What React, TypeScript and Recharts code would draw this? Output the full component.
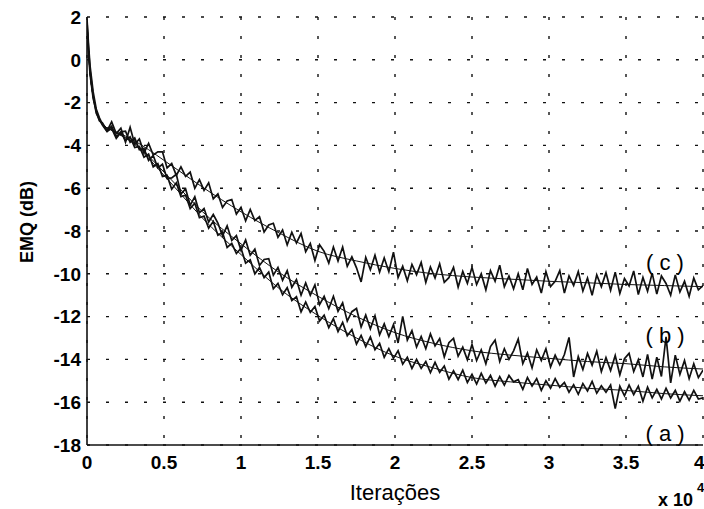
import { CartesianGrid, Line, LineChart, XAxis, YAxis } from 'recharts'

// x in units of 10^4 iterations
const headX = [0, 0.01, 0.02, 0.04, 0.06, 0.08]
const stepX = Array.from({ length: 131 }, (_, i) => Math.round((0.1 + i * 0.03) * 100) / 100)
const noisyX = [...headX, ...stepX]

const noisyC = [
  1.9, 0.7, -0.3, -1.5, -2.3, -2.7,
  -3.0, -3.32, -2.9, -3.45, -3.2, -3.85, -3.15, -3.95, -3.7, -4.35,
  -3.9, -4.45, -4.3, -4.3, -5.05, -4.85, -5.4, -5.0, -5.45, -5.25,
  -6.0, -5.6, -6.1, -5.75, -6.5, -6.27, -6.9, -6.6, -6.53, -7.21,
  -6.9, -7.52, -6.99, -7.51, -7.33, -8.05, -7.72, -7.64, -8.29, -7.95,
  -8.65, -8.06, -8.56, -8.12, -8.97, -8.58, -9.38, -8.64, -8.95, -9.5,
  -8.75, -9.4, -8.75, -9.65, -9.21, -9.72, -10.38, -9.23, -9.81, -9.13,
  -9.92, -9.26, -9.9, -8.99, -10.17, -9.65, -10.33, -9.56, -10.04, -9.47,
  -10.4, -9.68, -10.2, -9.53, -10.4, -10.18, -9.7, -10.62, -9.89, -10.45,
  -9.7, -10.5, -10.0, -10.75, -9.85, -10.35, -9.6, -10.6, -10.1, -10.7,
  -10.0, -10.75, -9.75, -10.5, -10.15, -10.9, -9.9, -10.6, -10.35, -9.85,
  -10.9, -10.1, -10.55, -9.9, -10.8, -10.2, -11.0, -10.05, -10.6, -9.95,
  -10.77, -9.92, -10.92, -10.22, -10.57, -9.87, -10.97, -10.17, -10.82, -9.97,
  -10.95, -10.1, -10.45, -11.0, -10.05, -10.85, -10.35, -11.05, -10.2, -10.75,
  -10.55,
]

const noisyB = [
  1.6, 0.3, -0.7, -1.8, -2.4, -2.85,
  -2.95, -3.3, -3.1, -3.6, -3.37, -3.34, -3.85, -3.65, -4.2, -4.15,
  -4.7, -4.47, -5.05, -4.88, -5.55, -5.52, -5.35, -6.27, -6.03, -6.8,
  -6.4, -7.15, -6.95, -7.58, -7.23, -7.63, -8.22, -7.76, -8.44, -8.22,
  -8.9, -8.42, -9.13, -8.85, -9.61, -9.33, -9.29, -10.06, -9.7, -10.3,
  -9.85, -10.63, -10.27, -11.0, -10.43, -11.0, -10.52, -11.44, -11.05, -11.63,
  -11.05, -11.75, -11.36, -12.21, -11.77, -11.62, -12.48, -11.93, -12.57, -11.96,
  -12.85, -12.34, -12.93, -12.37, -13.23, -11.99, -13.1, -12.66, -13.42, -12.93,
  -13.5, -12.81, -13.37, -13.03, -13.88, -13.22, -13.02, -13.85, -13.43, -14.02,
  -13.3, -14.05, -13.55, -14.2, -13.4, -13.1, -14.1, -13.5, -14.0, -13.6,
  -13.05, -14.2, -13.7, -14.4, -13.55, -14.05, -13.5, -14.35, -13.8, -14.25,
  -13.77, -12.97, -14.82, -13.87, -14.47, -13.72, -14.27, -13.62, -14.57, -13.92,
  -14.52, -13.82, -14.72, -13.97, -13.72, -14.57, -14.02, -14.82, -13.77, -14.92,
  -13.9, -14.8, -12.95, -15.1, -13.8, -14.7, -14.05, -14.9, -14.2, -14.85,
  -14.5,
]

const noisyA = [
  1.8, 0.5, -0.5, -1.7, -2.5, -2.8,
  -3.05, -3.35, -3.2, -3.67, -3.4, -3.77, -3.6, -4.1, -4.05, -4.55,
  -4.4, -5.0, -4.85, -5.45, -5.4, -6.05, -5.75, -6.4, -6.32, -6.95,
  -6.7, -7.38, -7.3, -7.87, -7.55, -8.2, -8.06, -8.77, -8.58, -9.05,
  -8.8, -9.5, -9.35, -10.0, -9.7, -10.18, -9.92, -10.7, -10.45, -10.98,
  -10.65, -11.25, -11.07, -11.78, -11.32, -11.8, -11.53, -12.2, -11.93, -12.52,
  -12.1, -12.7, -12.27, -12.89, -12.61, -13.28, -12.88, -13.4, -12.95, -13.55,
  -13.25, -13.9, -13.5, -13.95, -13.6, -14.22, -13.9, -14.42, -14.0, -14.42,
  -14.1, -14.62, -14.14, -14.6, -14.31, -14.92, -14.53, -14.94, -14.5, -15.08,
  -14.7, -15.15, -14.65, -15.1, -14.75, -15.25, -14.8, -15.2, -14.75, -15.05,
  -14.95, -15.4, -14.85, -15.25, -14.9, -15.45, -15.0, -15.35, -14.9, -15.3,
  -15.08, -15.53, -15.18, -15.63, -15.13, -15.48, -15.03, -15.58, -15.23, -15.53,
  -15.2, -16.3, -15.25, -15.7, -15.2, -15.65, -15.25, -15.95, -15.3, -15.8,
  -15.4, -15.85, -15.35, -15.8, -15.45, -15.95, -15.5, -15.9, -15.45, -15.85,
  -15.8,
]

const smoothX = [
  0, 0.01, 0.02, 0.04, 0.06, 0.08, 0.1, 0.15, 0.2, 0.3, 0.4, 0.5, 0.6, 0.75,
  1, 1.25, 1.5, 1.75, 2, 2.25, 2.5, 2.75, 3, 3.25, 3.5, 3.75, 4,
]
const smoothC = [
  1.8, 0.4, -0.6, -1.7, -2.35, -2.75, -3.0, -3.25, -3.4, -3.75, -4.2, -4.7, -5.2, -5.95,
  -7.1, -8.1, -8.95, -9.4, -9.75, -10.0, -10.15, -10.25, -10.35, -10.42, -10.5, -10.55, -10.6,
]
const smoothB = [
  1.8, 0.4, -0.6, -1.7, -2.35, -2.75, -3.0, -3.25, -3.45, -3.85, -4.5, -5.25, -6.0, -7.1,
  -8.6, -9.95, -11.05, -12.0, -12.75, -13.25, -13.6, -13.8, -13.95, -14.1, -14.2, -14.35, -14.45,
]
const smoothA = [
  1.8, 0.4, -0.6, -1.7, -2.35, -2.75, -3.0, -3.25, -3.45, -3.9, -4.6, -5.4, -6.2, -7.4,
  -9.1, -10.7, -11.95, -13.0, -13.85, -14.4, -14.85, -15.05, -15.2, -15.35, -15.45, -15.6, -15.7,
]

const xTicks = [0, 0.5, 1, 1.5, 2, 2.5, 3, 3.5, 4]
const yTicks = [-18, -16, -14, -12, -10, -8, -6, -4, -2, 0, 2]

const toPoints = (xs: number[], ys: number[]) => xs.map((x, i) => ({ x, y: ys[i] }))

const font = '"Liberation Sans", Arial, Helvetica, sans-serif'
const ink = '#111'

export default function App() {
  const noisy = [noisyA, noisyB, noisyC].map((ys) => toPoints(noisyX, ys))
  const smooth = [smoothA, smoothB, smoothC].map((ys) => toPoints(smoothX, ys))

  return (
    <div style={{ position: 'absolute', left: 0, top: 0, width: 704, height: 509, background: '#fff' }}>
      <LineChart width={704} height={509} margin={{ top: 17, right: 1, bottom: 0, left: 0 }}>
        <CartesianGrid stroke={ink} strokeWidth={1.4} strokeDasharray="3 16" />
        <XAxis
          dataKey="x"
          type="number"
          domain={[0, 4]}
          ticks={xTicks}
          height={64}
          axisLine={{ stroke: ink, strokeWidth: 1.6 }}
          tickLine={false}
          tickSize={0}
          tickMargin={11}
          tick={{ fill: '#000', fontSize: 19, fontWeight: 'bold', fontFamily: font }}
          allowDataOverflow
        />
        <YAxis
          type="number"
          domain={[-18, 2]}
          ticks={yTicks}
          width={87}
          axisLine={{ stroke: ink, strokeWidth: 1.6 }}
          tickLine={false}
          tickSize={0}
          tickMargin={6}
          tick={{ fill: '#000', fontSize: 19, fontWeight: 'bold', fontFamily: font }}
          allowDataOverflow
        />
        {noisy.map((d, i) => (
          <Line
            key={'n' + i}
            data={d}
            dataKey="y"
            type="linear"
            stroke={ink}
            strokeWidth={1.7}
            dot={false}
            isAnimationActive={false}
          />
        ))}
        {smooth.map((d, i) => (
          <Line
            key={'s' + i}
            data={d}
            dataKey="y"
            type="monotone"
            stroke={ink}
            strokeWidth={1}
            dot={false}
            isAnimationActive={false}
          />
        ))}
      </LineChart>
      <svg
        width={704}
        height={509}
        style={{ position: 'absolute', left: 0, top: 0, pointerEvents: 'none' }}
        fontFamily={font}
      >
        <text x={27} y={222} transform="rotate(-90 27 222)" textAnchor="middle" dominantBaseline="central" fontSize={18} fontWeight="bold">
          EMQ (dB)
        </text>
        <text x={395} y={492} textAnchor="middle" dominantBaseline="central" fontSize={22}>
          Iterações
        </text>
        <text x={658} y={506} fontSize={18} fontWeight="bold">x 10</text>
        <text x={697} y={492} fontSize={13} fontWeight="bold">4</text>
        <text x={665} y={262} textAnchor="middle" dominantBaseline="central" fontSize={22}>( c )</text>
        <text x={665} y={335} textAnchor="middle" dominantBaseline="central" fontSize={22}>( b )</text>
        <text x={665} y={433} textAnchor="middle" dominantBaseline="central" fontSize={22}>( a )</text>
      </svg>
    </div>
  )
}
